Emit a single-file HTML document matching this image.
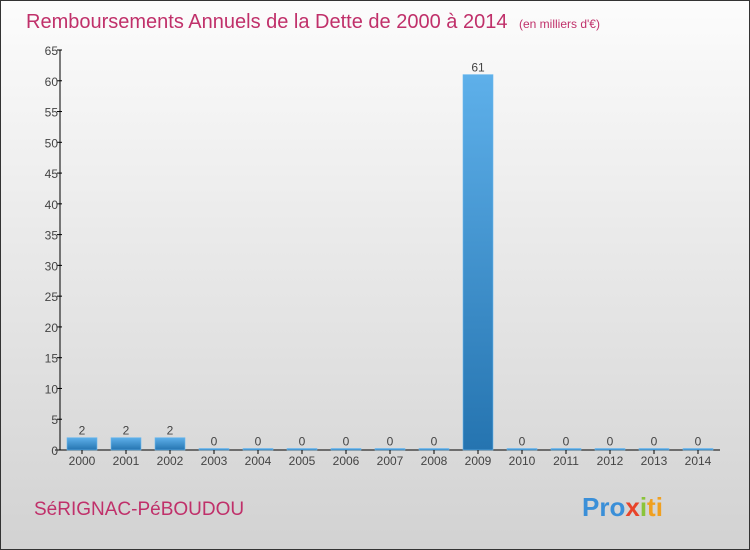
<!DOCTYPE html>
<html><head><meta charset="utf-8"><style>
body{margin:0}
#wrap{position:relative;width:748px;height:548px;border:1px solid #333;background:linear-gradient(#fcfcfc,#d2d2d2);font-family:"Liberation Sans",sans-serif;overflow:hidden}
</style></head><body>
<div id="wrap">
<svg width="748" height="548" viewBox="1 1 748 548" id="svg">
<defs><linearGradient id="bg" x1="0" y1="0" x2="0" y2="1"><stop offset="0" stop-color="#5eb0ea"/><stop offset="1" stop-color="#2574b0"/></linearGradient></defs>
<text x="26" y="28" font-size="20" fill="#c0306a">Remboursements Annuels de la Dette de 2000 à 2014 <tspan font-size="12" dx="6">(en milliers d'€)</tspan></text>
<text x="34" y="515" font-size="19" fill="#c0306a">SéRIGNAC-PéBOUDOU</text>
<text x="582" y="516" font-size="26" font-weight="bold"><tspan fill="#3a8fd8">Pro</tspan><tspan fill="#e8442a">x</tspan><tspan fill="#8ac43a">i</tspan><tspan fill="#f0a020">ti</tspan></text>
<g id="chart"></g>
</svg></div>
<script>
const years=["2000","2001","2002","2003","2004","2005","2006","2007","2008","2009","2010","2011","2012","2013","2014"];
const values=[2,2,2,0,0,0,0,0,0,61,0,0,0,0,0];
const yTicks=[0,5,10,15,20,25,30,35,40,45,50,55,60,65];
const NS="http://www.w3.org/2000/svg",g=document.getElementById('chart');
const x0=60,x1=720,yBase=450,yTop=50,yMax=65,step=(x1-x0)/years.length;
const y=v=>yBase-(v/yMax)*(yBase-yTop);
const xc=i=>x0+step*(i+0.5);
function mk(t,a){const e=document.createElementNS(NS,t);for(const k in a)e.setAttribute(k,a[k]);g.appendChild(e);return e;}
let ax=mk('line',{x1:x0,y1:yTop,x2:x0,y2:yBase,stroke:'#000'});


let bx=mk('line',{x1:x0-5,y1:yBase,x2:x1,y2:yBase,stroke:'#000'});


yTicks.forEach(v=>{
 const t=mk('line',{x1:x0-3,x2:x0+2,y1:y(v),y2:y(v),stroke:'#000'});
 
 
 const l=mk('text',{x:x0-2,y:y(v)+5,'text-anchor':'end','font-size':12,fill:'#444'});
 l.textContent=v;
 
 
});
years.forEach((yr,i)=>{
 const v=values[i],cx=xc(i);
 const h=Math.max(yBase-y(v),1.5);
 const r=mk('rect',{x:cx-15,y:yBase-h,width:30,height:h,fill:'url(#bg)',stroke:'#6ab8ee','stroke-width':0.6});
 
 
 const vl=mk('text',{x:cx,y:yBase-h-3,'text-anchor':'middle','font-size':12,fill:'#444'});
 vl.textContent=v;
 
 
 const tk=mk('line',{x1:cx,x2:cx,y1:yBase,y2:yBase+4,stroke:'#000'});
 
 
 const xl=mk('text',{x:cx,y:yBase+15,'text-anchor':'middle','font-size':12,fill:'#444'});
 xl.textContent=yr;
 
 
});
</script>
</body></html>
